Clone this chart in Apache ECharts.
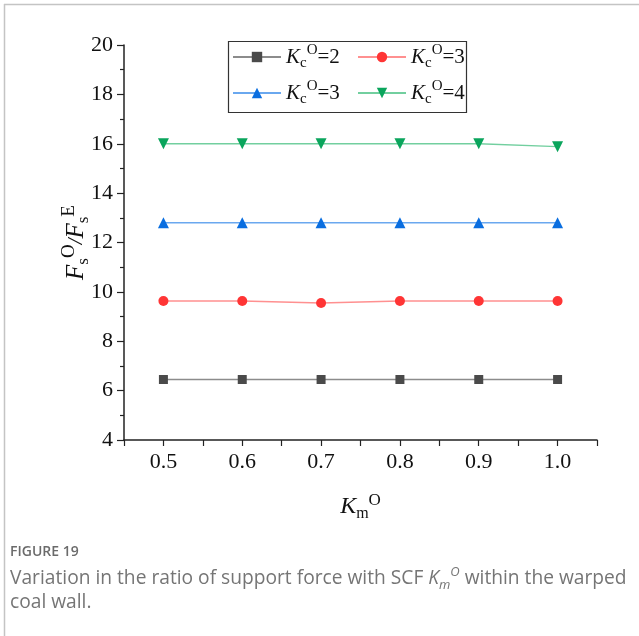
<!DOCTYPE html>
<html>
<head>
<meta charset="utf-8">
<script src="https://cdn.jsdelivr.net/npm/echarts@6/dist/echarts.min.js"></script>
<style>
  html, body { margin: 0; padding: 0; background: #fff; }
  #chart { width: 639px; height: 636px; }
</style>
</head>
<body>
<div id="chart"></div>
<script>
// K_m^O values along the horizontal axis
const kmValues = [0.5, 0.6, 0.7, 0.8, 0.9, 1.0];
// Support-force ratio F_s^O / F_s^E for each K_c^O curve
const ratioKc2 = [6.45, 6.45, 6.45, 6.45, 6.45, 6.45];
const ratioKc3 = [9.63, 9.63, 9.55, 9.63, 9.63, 9.63];
const ratioKc3b = [12.8, 12.8, 12.8, 12.8, 12.8, 12.8];
const ratioKc4 = [16.0, 16.0, 16.0, 16.0, 16.0, 15.88];
// Legend values printed after "K_c^O="
const kcLabels = ['2', '3', '3', '4'];
const seriesKeys = ['kc2', 'kc3', 'kc3b', 'kc4'];

const serif = '"Liberation Serif", "Times New Roman", serif';
const sans = '"Open Sans", "Noto Sans", sans-serif';

const styles = [
  { marker: '#4a4a4a', line: '#8c8c8c', symbol: 'rect', rotate: 0, size: 9 },
  { marker: '#ff3535', line: '#ff9090', symbol: 'circle', rotate: 0, size: 10 },
  { marker: '#0a6ee0', line: '#6aa8ef', symbol: 'triangle', rotate: 0, size: 11 },
  { marker: '#0aa55c', line: '#72cf9f', symbol: 'triangle', rotate: 180, size: 11 }
];
const values = [ratioKc2, ratioKc3, ratioKc3b, ratioKc4];

const legendRich = {
  k: { fontFamily: serif, fontStyle: 'italic', fontSize: 21, color: '#111', lineHeight: 28 },
  s: { fontFamily: serif, fontSize: 15, color: '#111', verticalAlign: 'bottom', lineHeight: 10 },
  p: { fontFamily: serif, fontSize: 15, color: '#111', verticalAlign: 'top', lineHeight: 15 },
  t: { fontFamily: serif, fontSize: 21, color: '#111', lineHeight: 28 }
};
function legendText(name) {
  const i = seriesKeys.indexOf(name);
  return '{k|K}{s|c}{p|O}{t|=' + kcLabels[i] + '}';
}

const series = seriesKeys.map((key, i) => ({
  name: key,
  type: 'line',
  data: kmValues.map((x, j) => [x, values[i][j]]),
  symbol: styles[i].symbol,
  symbolRotate: styles[i].rotate,
  symbolSize: styles[i].size,
  showAllSymbol: true,
  itemStyle: { color: styles[i].marker },
  lineStyle: { color: styles[i].line, width: 1.3 },
  emphasis: { disabled: true },
  animation: false
}));

const legendBase = {
  orient: 'vertical',
  top: 43,
  padding: 0,
  itemGap: 8,
  itemWidth: 48,
  itemHeight: 13,
  formatter: legendText,
  textStyle: { rich: legendRich },
  selectedMode: false
};

const chart = echarts.init(document.getElementById('chart'), null, { renderer: 'canvas' });
chart.setOption({
  backgroundColor: '#fff',
  animation: false,
  grid: { left: 124, right: 42, top: 45, bottom: 196 },
  legend: [
    Object.assign({}, legendBase, { left: 232, data: ['kc2', 'kc3b'] }),
    Object.assign({}, legendBase, { left: 357, data: ['kc3', 'kc4'] })
  ],
  xAxis: {
    type: 'value',
    min: 0.45,
    max: 1.05,
    interval: 0.05,
    name: '{k|K}{s|m}{p|O}',
    nameLocation: 'middle',
    nameGap: 52,
    nameTextStyle: {
      rich: {
        k: { fontFamily: serif, fontStyle: 'italic', fontSize: 24, color: '#111', lineHeight: 30 },
        s: { fontFamily: serif, fontSize: 16, color: '#111', verticalAlign: 'bottom', lineHeight: 11 },
        p: { fontFamily: serif, fontSize: 17, color: '#111', verticalAlign: 'top', lineHeight: 16 }
      }
    },
    axisLine: { lineStyle: { color: '#222', width: 1.5 } },
    axisTick: { inside: false, length: 6, lineStyle: { color: '#222', width: 1.2 } },
    axisLabel: {
      fontFamily: serif, fontSize: 22, color: '#111', margin: 11,
      formatter: v => {
        const r = Math.round(v * 100);
        return (r % 10 === 0) ? (r / 100).toFixed(1) : '';
      }
    },
    splitLine: { show: false }
  },
  yAxis: {
    type: 'value',
    min: 4,
    max: 20,
    interval: 2,
    name: '{f|F}{s|s}{p|O}{f2|/}{f|F}{s|s}{p|E}',
    nameLocation: 'middle',
    nameGap: 32,
    nameMoveOverlap: false,
    nameRotate: 90,
    nameTextStyle: {
      rich: {
        f: { fontFamily: serif, fontStyle: 'italic', fontSize: 25, color: '#111', lineHeight: 32 },
        f2: { fontFamily: serif, fontStyle: 'italic', fontSize: 21, color: '#111', lineHeight: 32 },
        s: { fontFamily: serif, fontSize: 17, color: '#111', verticalAlign: 'bottom', lineHeight: 11 },
        p: { fontFamily: serif, fontSize: 19, color: '#111', verticalAlign: 'top', lineHeight: 17 }
      }
    },
    axisLine: { show: true, lineStyle: { color: '#222', width: 1.5 } },
    axisTick: { show: true, inside: false, length: 7, lineStyle: { color: '#222', width: 1.2 } },
    minorTick: { show: true, splitNumber: 2, length: 4, lineStyle: { color: '#222', width: 1.2 } },
    axisLabel: { fontFamily: serif, fontSize: 22, color: '#111', margin: 11 },
    splitLine: { show: false }
  },
  graphic: [
    { type: 'line', shape: { x1: 4, y1: 4.5, x2: 639, y2: 4.5 }, style: { stroke: '#c4c4c4', lineWidth: 1.5 }, silent: true },
    { type: 'line', shape: { x1: 4.5, y1: 4, x2: 4.5, y2: 636 }, style: { stroke: '#c4c4c4', lineWidth: 1.5 }, silent: true },
    { type: 'rect', shape: { x: 228.5, y: 41.5, width: 238, height: 71 }, style: { fill: 'none', stroke: '#333', lineWidth: 1.2 }, silent: true, z: 10 },
    {
      type: 'text', left: 10, top: 545, silent: true,
      style: { text: 'FIGURE 19', font: '600 14px ' + sans, fill: '#6b6b6b' }
    },
    {
      type: 'text', left: 10, top: 566, silent: true,
      style: {
        text: '{a|Variation in the ratio of support force with SCF }{k|K}{s|m}{p|O}{a| within the warped}',
        rich: {
          a: { fontFamily: sans, fontSize: 19.2, fill: '#757575', lineHeight: 26 },
          k: { fontFamily: sans, fontStyle: 'italic', fontSize: 19.2, fill: '#757575', lineHeight: 26 },
          s: { fontFamily: sans, fontStyle: 'italic', fontSize: 13, fill: '#757575', verticalAlign: 'bottom', lineHeight: 10 },
          p: { fontFamily: sans, fontStyle: 'italic', fontSize: 13, fill: '#757575', verticalAlign: 'top', lineHeight: 13 }
        }
      }
    },
    {
      type: 'text', left: 10, top: 593, silent: true,
      style: { text: 'coal wall.', font: '19.2px ' + sans, fill: '#757575' }
    }
  ],
  series: series
});
</script>
</body>
</html>
